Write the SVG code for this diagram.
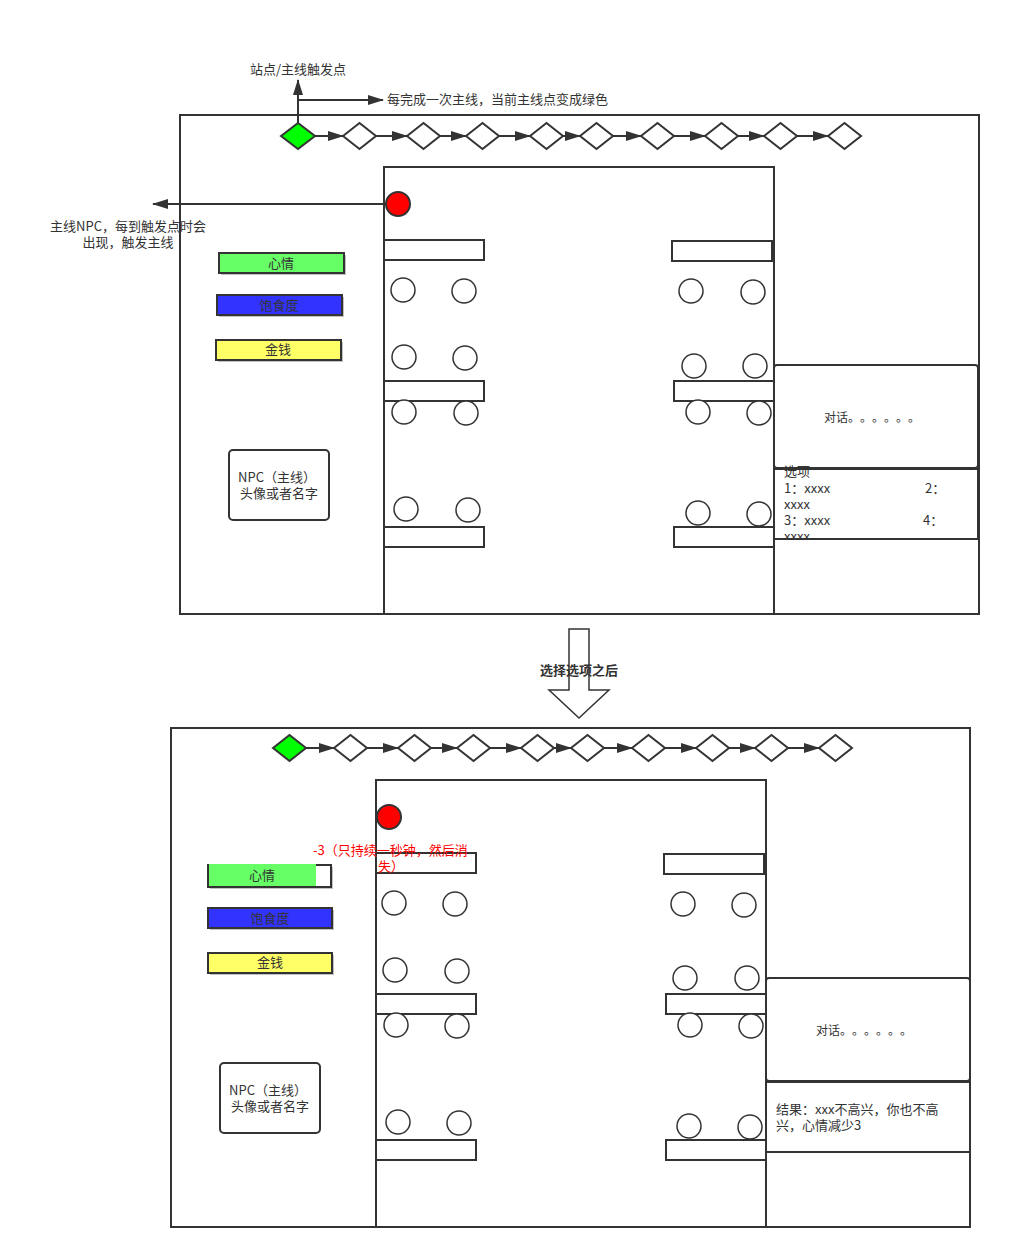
<svg xmlns="http://www.w3.org/2000/svg" width="1010" height="1259" viewBox="0 0 1010 1259">
<style>
text{font-family:"Noto Sans CJK SC","Liberation Sans",sans-serif;font-size:13px;fill:#333;text-spacing-trim:space-all}
.s{fill:#fff;stroke:#333;stroke-width:2}
.n{fill:none;stroke:#333;stroke-width:2}
.d{fill:#fff;stroke:#333;stroke-width:2}
.g{fill:#00ff00;stroke:#333;stroke-width:2}
.c{fill:#fff;stroke:#333;stroke-width:1.5}
.t{fill:#fff;stroke:#333;stroke-width:2}
.e{stroke:#333;stroke-width:2;fill:none}
.sh{fill:#999;opacity:0.6}
.m{text-anchor:middle}
.dl{font-size:12px}
</style>
<defs>
<marker id="ah" viewBox="0 0 16 10" refX="15" refY="5" markerWidth="16" markerHeight="10" markerUnits="userSpaceOnUse" orient="auto">
<path d="M0,0 L16,5 L0,10 Z" fill="#333"/>
</marker>
<clipPath id="optclip"><rect x="774" y="462" width="204" height="77"/></clipPath>
</defs>

<!-- ===== TOP SCENE ===== -->
<g id="top-frame"><rect class="s" x="180" y="115" width="799" height="499"/></g>
<g id="top-room"><rect class="n" x="384" y="167" width="390" height="447"/></g>

<g id="connectors-top">
<line class="e" x1="298" y1="123" x2="298" y2="80" marker-end="url(#ah)"/>
<line class="e" x1="298" y1="100" x2="383" y2="100" marker-end="url(#ah)"/>
<line class="e" x1="386" y1="204" x2="153" y2="204" marker-end="url(#ah)"/>
<line class="e" x1="315" y1="136" x2="343" y2="136" marker-end="url(#ah)"/>
<line class="e" x1="376" y1="136" x2="407" y2="136" marker-end="url(#ah)"/>
<line class="e" x1="440" y1="136" x2="466" y2="136" marker-end="url(#ah)"/>
<line class="e" x1="499" y1="136" x2="530" y2="136" marker-end="url(#ah)"/>
<line class="e" x1="563" y1="136" x2="580" y2="136" marker-end="url(#ah)"/>
<line class="e" x1="613" y1="136" x2="641" y2="136" marker-end="url(#ah)"/>
<line class="e" x1="674" y1="136" x2="705" y2="136" marker-end="url(#ah)"/>
<line class="e" x1="738" y1="136" x2="764" y2="136" marker-end="url(#ah)"/>
<line class="e" x1="797" y1="136" x2="828" y2="136" marker-end="url(#ah)"/>
</g>

<g id="top-diamonds">
<path class="g" d="M281,136 L298,123 L315,136 L298,149 Z"/>
<path class="d" d="M343,136 L359.5,123 L376,136 L359.5,149 Z"/>
<path class="d" d="M407,136 L423.5,123 L440,136 L423.5,149 Z"/>
<path class="d" d="M466,136 L482.5,123 L499,136 L482.5,149 Z"/>
<path class="d" d="M530,136 L546.5,123 L563,136 L546.5,149 Z"/>
<path class="d" d="M580,136 L596.5,123 L613,136 L596.5,149 Z"/>
<path class="d" d="M641,136 L657.5,123 L674,136 L657.5,149 Z"/>
<path class="d" d="M705,136 L721.5,123 L738,136 L721.5,149 Z"/>
<path class="d" d="M764,136 L780.5,123 L797,136 L780.5,149 Z"/>
<path class="d" d="M828,136 L844.5,123 L861,136 L844.5,149 Z"/>
</g>

<g id="top-labels">
<text class="m" x="298" y="74">站点/主线触发点</text>
<text x="387" y="104">每完成一次主线，当前主线点变成绿色</text>
<text class="m" x="128" y="231">主线NPC，每到触发点时会</text>
<text class="m" x="128" y="247">出现，触发主线</text>
</g>

<g id="top-npc-dot"><circle cx="398" cy="204" r="12" fill="#ff0000" stroke="#333" stroke-width="2"/></g>

<g id="top-bars">
<rect class="sh" x="221" y="255" width="125" height="20"/>
<rect x="219" y="253" width="125" height="20" fill="#66ff66" stroke="#333" stroke-width="2"/>
<text class="m" x="281" y="268">心情</text>
<rect class="sh" x="219" y="297" width="125" height="20"/>
<rect x="217" y="295" width="125" height="20" fill="#3333ff" stroke="#333" stroke-width="2"/>
<text class="m" x="279" y="310">饱食度</text>
<rect class="sh" x="218" y="342" width="125" height="20"/>
<rect x="216" y="340" width="125" height="20" fill="#ffff66" stroke="#333" stroke-width="2"/>
<text class="m" x="278" y="354">金钱</text>
</g>

<g id="top-npc-card">
<rect class="s" x="229" y="450" width="100" height="70" rx="4"/>
<text class="m" x="277" y="482">NPC（主线）</text>
<text class="m" x="279" y="498">头像或者名字</text>
</g>

<g id="top-tables">
<rect class="t" x="384" y="240" width="100" height="20"/>
<rect class="t" x="384" y="381" width="100" height="20"/>
<rect class="t" x="384" y="527" width="100" height="20"/>
<rect class="t" x="672" y="241" width="100" height="20"/>
<rect class="t" x="674" y="381" width="100" height="20"/>
<rect class="t" x="674" y="527" width="100" height="20"/>
</g>
<g id="top-chairs">
<circle class="c" cx="403" cy="290" r="12"/><circle class="c" cx="464" cy="291" r="12"/>
<circle class="c" cx="404" cy="357" r="12"/><circle class="c" cx="465" cy="358" r="12"/>
<circle class="c" cx="404" cy="412" r="12"/><circle class="c" cx="466" cy="413" r="12"/>
<circle class="c" cx="406" cy="509" r="12"/><circle class="c" cx="468" cy="510" r="12"/>
<circle class="c" cx="691" cy="291" r="12"/><circle class="c" cx="753" cy="292" r="12"/>
<circle class="c" cx="694" cy="366" r="12"/><circle class="c" cx="755" cy="366" r="12"/>
<circle class="c" cx="698" cy="412" r="12"/><circle class="c" cx="759" cy="413" r="12"/>
<circle class="c" cx="698" cy="513" r="12"/><circle class="c" cx="759" cy="514" r="12"/>
</g>

<g id="top-dialog">
<rect class="s" x="774" y="365" width="204" height="103" rx="3"/>
<text class="m dl" x="872" y="422">对话。。。。。。</text>
</g>
<g id="top-options">
<rect class="s" x="774" y="469" width="204" height="70"/>
<g clip-path="url(#optclip)">
<text x="784" y="476">选项</text>
<text x="784" y="493">1：xxxx</text>
<text x="925" y="493">2：</text>
<text x="784" y="509">xxxx</text>
<text x="784" y="525">3：xxxx</text>
<text x="923" y="525">4：</text>
<text x="784" y="541">xxxx</text>
</g>
<line x1="774" y1="539" x2="978" y2="539" stroke="#333" stroke-width="2"/>
</g>

<!-- ===== MIDDLE ARROW ===== -->
<g id="transition-arrow">
<path d="M569,629 L589,629 L589,690 L609,690 L579,718 L549,690 L569,690 Z" fill="#fff" stroke="#333" stroke-width="1.5"/>
<text class="m" x="579" y="675" style="font-weight:bold">选择选项之后</text>
</g>

<!-- ===== BOTTOM SCENE ===== -->
<g id="bottom-frame"><rect class="s" x="171" y="728" width="799" height="499"/></g>
<g id="bottom-room"><rect class="n" x="376" y="780" width="390" height="447"/></g>

<g id="connectors-bottom">
<line class="e" x1="306" y1="748" x2="334" y2="748" marker-end="url(#ah)"/>
<line class="e" x1="367" y1="748" x2="398" y2="748" marker-end="url(#ah)"/>
<line class="e" x1="431" y1="748" x2="457" y2="748" marker-end="url(#ah)"/>
<line class="e" x1="490" y1="748" x2="521" y2="748" marker-end="url(#ah)"/>
<line class="e" x1="554" y1="748" x2="571" y2="748" marker-end="url(#ah)"/>
<line class="e" x1="604" y1="748" x2="632" y2="748" marker-end="url(#ah)"/>
<line class="e" x1="665" y1="748" x2="696" y2="748" marker-end="url(#ah)"/>
<line class="e" x1="729" y1="748" x2="755" y2="748" marker-end="url(#ah)"/>
<line class="e" x1="788" y1="748" x2="819" y2="748" marker-end="url(#ah)"/>
</g>

<g id="bottom-diamonds">
<path class="g" d="M273,748 L289.5,735 L306,748 L289.5,761 Z"/>
<path class="d" d="M334,748 L350.5,735 L367,748 L350.5,761 Z"/>
<path class="d" d="M398,748 L414.5,735 L431,748 L414.5,761 Z"/>
<path class="d" d="M457,748 L473.5,735 L490,748 L473.5,761 Z"/>
<path class="d" d="M521,748 L537.5,735 L554,748 L537.5,761 Z"/>
<path class="d" d="M571,748 L587.5,735 L604,748 L587.5,761 Z"/>
<path class="d" d="M632,748 L648.5,735 L665,748 L648.5,761 Z"/>
<path class="d" d="M696,748 L712.5,735 L729,748 L712.5,761 Z"/>
<path class="d" d="M755,748 L771.5,735 L788,748 L771.5,761 Z"/>
<path class="d" d="M819,748 L835.5,735 L852,748 L835.5,761 Z"/>
</g>

<g id="bottom-npc-dot"><circle cx="389" cy="817" r="12" fill="#ff0000" stroke="#333" stroke-width="2"/></g>

<g id="bottom-tables">
<rect class="t" x="376" y="853" width="100" height="20"/>
<rect class="t" x="376" y="994" width="100" height="20"/>
<rect class="t" x="376" y="1140" width="100" height="20"/>
<rect class="t" x="664" y="854" width="100" height="20"/>
<rect class="t" x="666" y="994" width="100" height="20"/>
<rect class="t" x="666" y="1140" width="100" height="20"/>
</g>
<g id="bottom-chairs">
<circle class="c" cx="394" cy="903" r="12"/><circle class="c" cx="455" cy="904" r="12"/>
<circle class="c" cx="395" cy="970" r="12"/><circle class="c" cx="457" cy="971" r="12"/>
<circle class="c" cx="396" cy="1025" r="12"/><circle class="c" cx="457" cy="1026" r="12"/>
<circle class="c" cx="398" cy="1122" r="12"/><circle class="c" cx="459" cy="1123" r="12"/>
<circle class="c" cx="683" cy="904" r="12"/><circle class="c" cx="744" cy="905" r="12"/>
<circle class="c" cx="685" cy="978" r="12"/><circle class="c" cx="747" cy="978" r="12"/>
<circle class="c" cx="690" cy="1025" r="12"/><circle class="c" cx="751" cy="1026" r="12"/>
<circle class="c" cx="689" cy="1126" r="12"/><circle class="c" cx="750" cy="1127" r="12"/>
</g>

<g id="bottom-bars">
<rect class="sh" x="210" y="867" width="123" height="22"/>
<rect x="208" y="865" width="123" height="22" fill="#fff" stroke="#333" stroke-width="2"/>
<rect x="209" y="864" width="107" height="22" fill="#66ff66"/>
<text class="m" x="262" y="880">心情</text>
<rect class="sh" x="210" y="910" width="124" height="20"/>
<rect x="208" y="908" width="124" height="20" fill="#3333ff" stroke="#333" stroke-width="2"/>
<text class="m" x="270" y="923">饱食度</text>
<rect class="sh" x="210" y="955" width="124" height="20"/>
<rect x="208" y="953" width="124" height="20" fill="#ffff66" stroke="#333" stroke-width="2"/>
<text class="m" x="270" y="967">金钱</text>
</g>

<g id="bottom-penalty-label">
<text x="313" y="855" style="fill:#ff0000">-3（只持续一秒钟，然后消</text>
<text x="378" y="871" style="fill:#ff0000">失）</text>
</g>

<g id="bottom-npc-card">
<rect class="s" x="220" y="1063" width="100" height="70" rx="4"/>
<text class="m" x="268" y="1095">NPC（主线）</text>
<text class="m" x="270" y="1111">头像或者名字</text>
</g>

<g id="bottom-dialog">
<rect class="s" x="766" y="978" width="204" height="103" rx="3"/>
<text class="m dl" x="864" y="1035">对话。。。。。。</text>
</g>
<g id="bottom-result">
<rect class="s" x="766" y="1082" width="204" height="70"/>
<text x="776" y="1114">结果：xxx不高兴，你也不高</text>
<text x="776" y="1130">兴，心情减少3</text>
</g>
</svg>
